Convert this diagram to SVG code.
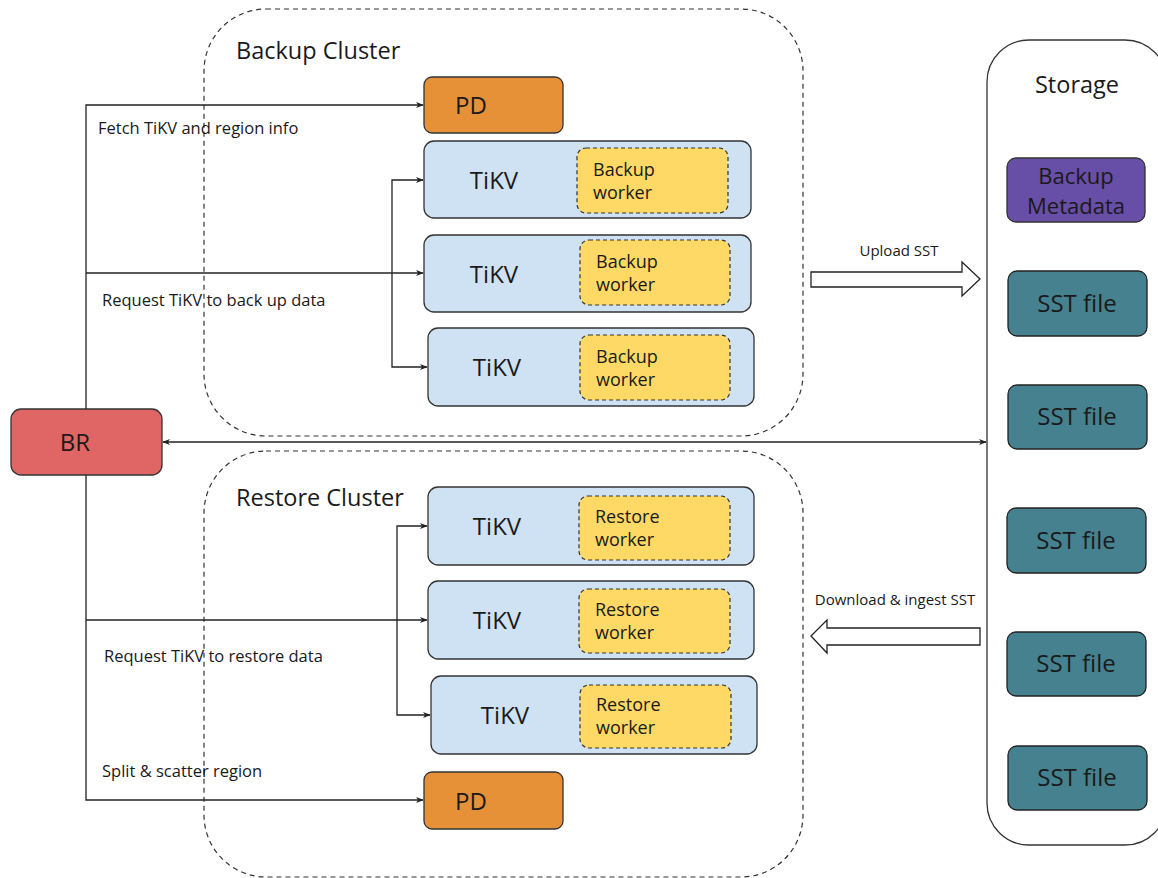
<svg xmlns="http://www.w3.org/2000/svg" width="1158" height="878" viewBox="0 0 1158 878">
<defs>
<marker id="ah" viewBox="0 0 10 10" refX="9" refY="5" markerWidth="8" markerHeight="8" markerUnits="userSpaceOnUse" orient="auto-start-reverse">
<path d="M0,1 L10,5 L0,9 L3,5 Z" fill="#222"/>
</marker>
<style>
text{font-family:"Open Sans","Noto Sans","Liberation Sans",sans-serif;fill:#1a1a1a}
.cl{fill:none;stroke:#333;stroke-width:1.2;stroke-dasharray:5 4}
.tk{fill:#cfe2f3;stroke:#333;stroke-width:1.3}
.wk{fill:#ffd966;stroke:#333;stroke-width:1.2;stroke-dasharray:4 3}
.pd{fill:#e69138;stroke:#333;stroke-width:1.3}
.sst{fill:#45818e;stroke:#222;stroke-width:1.3}
.ln{fill:none;stroke:#222;stroke-width:1.3}
.lbl{font-size:16.5px}
.rl{font-size:15px}
.big{font-size:23.5px}
.nm{font-size:24px}
.md{font-size:22px}
.wt{font-size:18px}
</style>
</defs>
<g id="backup-cluster"><rect class="cl" x="204" y="9" width="599" height="427" rx="62"/><text class="big" x="236" y="59">Backup Cluster</text></g>
<g id="restore-cluster"><rect class="cl" x="204" y="451" width="599" height="426" rx="62"/><text class="big" x="236" y="506">Restore Cluster</text></g>
<g id="storage"><rect x="987" y="40" width="180" height="805" rx="42" fill="#fff" stroke="#333" stroke-width="1.3"/><text class="big" x="1077" y="93" text-anchor="middle">Storage</text></g>
<g id="pd-backup"><rect class="pd" x="424" y="77" width="139" height="56" rx="8"/><text class="nm" x="471" y="114" text-anchor="middle">PD</text></g>
<g id="tikv-b1"><rect class="tk" x="424" y="141" width="327" height="77" rx="10"/><text class="nm" x="494" y="189" text-anchor="middle">TiKV</text></g>
<g id="worker-b1"><rect class="wk" x="577" y="148" width="151" height="65" rx="9"/><text class="wt" x="593" y="176">Backup</text><text class="wt" x="593" y="199">worker</text></g>
<g id="tikv-b2"><rect class="tk" x="424" y="235" width="327" height="77" rx="10"/><text class="nm" x="494" y="283" text-anchor="middle">TiKV</text></g>
<g id="worker-b2"><rect class="wk" x="580" y="240" width="150" height="65" rx="9"/><text class="wt" x="596" y="268">Backup</text><text class="wt" x="596" y="291">worker</text></g>
<g id="tikv-b3"><rect class="tk" x="428" y="328" width="326" height="78" rx="10"/><text class="nm" x="497" y="376" text-anchor="middle">TiKV</text></g>
<g id="worker-b3"><rect class="wk" x="580" y="335" width="150" height="65" rx="9"/><text class="wt" x="596" y="363">Backup</text><text class="wt" x="596" y="386">worker</text></g>
<g id="br"><rect x="11" y="409" width="151" height="66" rx="10" fill="#e06666" stroke="#333" stroke-width="1.3"/><text class="nm" x="75" y="451" text-anchor="middle">BR</text></g>
<g id="tikv-r1"><rect class="tk" x="428" y="487" width="326" height="78" rx="10"/><text class="nm" x="497" y="535" text-anchor="middle">TiKV</text></g>
<g id="worker-r1"><rect class="wk" x="579" y="496" width="151" height="64" rx="9"/><text class="wt" x="595" y="523">Restore</text><text class="wt" x="595" y="546">worker</text></g>
<g id="tikv-r2"><rect class="tk" x="428" y="581" width="326" height="78" rx="10"/><text class="nm" x="497" y="629" text-anchor="middle">TiKV</text></g>
<g id="worker-r2"><rect class="wk" x="579" y="589" width="151" height="64" rx="9"/><text class="wt" x="595" y="616">Restore</text><text class="wt" x="595" y="639">worker</text></g>
<g id="tikv-r3"><rect class="tk" x="431" y="676" width="326" height="78" rx="10"/><text class="nm" x="505" y="724" text-anchor="middle">TiKV</text></g>
<g id="worker-r3"><rect class="wk" x="580" y="685" width="151" height="63" rx="9"/><text class="wt" x="596" y="711">Restore</text><text class="wt" x="596" y="734">worker</text></g>
<g id="pd-restore"><rect class="pd" x="424" y="772" width="139" height="57" rx="8"/><text class="nm" x="471" y="810" text-anchor="middle">PD</text></g>
<g id="backup-metadata"><rect x="1007" y="158" width="138" height="64" rx="9" fill="#674ea7" stroke="#333" stroke-width="1.3"/><text class="md" x="1076" y="184" text-anchor="middle">Backup</text><text class="md" x="1076" y="214" text-anchor="middle">Metadata</text></g>
<g id="sst1"><rect class="sst" x="1008" y="271" width="139" height="65" rx="9"/><text class="nm" x="1077" y="312" text-anchor="middle">SST file</text></g>
<g id="sst2"><rect class="sst" x="1008" y="385" width="139" height="64" rx="9"/><text class="nm" x="1077" y="425" text-anchor="middle">SST file</text></g>
<g id="sst3"><rect class="sst" x="1007" y="508" width="139" height="65" rx="9"/><text class="nm" x="1076" y="549" text-anchor="middle">SST file</text></g>
<g id="sst4"><rect class="sst" x="1007" y="632" width="139" height="64" rx="9"/><text class="nm" x="1076" y="672" text-anchor="middle">SST file</text></g>
<g id="sst5"><rect class="sst" x="1008" y="746" width="139" height="64" rx="9"/><text class="nm" x="1077" y="786" text-anchor="middle">SST file</text></g>
<g id="connectors">
<path class="ln" d="M86,409 V105 H423" marker-end="url(#ah)"/>
<path class="ln" d="M86,273 H423" marker-end="url(#ah)"/>
<path class="ln" d="M392,273 V180 H423" marker-end="url(#ah)"/>
<path class="ln" d="M392,273 V367 H427" marker-end="url(#ah)"/>
<path class="ln" d="M86,475 V800 H423" marker-end="url(#ah)"/>
<path class="ln" d="M86,620 H427" marker-end="url(#ah)"/>
<path class="ln" d="M397,620 V526 H427" marker-end="url(#ah)"/>
<path class="ln" d="M397,620 V715 H430" marker-end="url(#ah)"/>
<path class="ln" d="M163,442 H986" marker-start="url(#ah)" marker-end="url(#ah)"/>
<path d="M811,272 H962 V262 L980,279 L962,296 V287 H811 Z" fill="#fff" stroke="#222" stroke-width="1.3"/>
<path d="M980,628 H827 V620 L811,636 L827,653 V645 H980 Z" fill="#fff" stroke="#222" stroke-width="1.3"/>
<text class="lbl" x="98" y="134">Fetch TiKV and region info</text>
<text class="lbl" x="102" y="306">Request TiKV to back up data</text>
<text class="lbl" x="104" y="662">Request TiKV to restore data</text>
<text class="lbl" x="102" y="777">Split &amp; scatter region</text>
<text class="rl" x="899" y="256" text-anchor="middle">Upload SST</text>
<text class="rl" x="895" y="605" text-anchor="middle">Download &amp; ingest SST</text>
</g>
</svg>
